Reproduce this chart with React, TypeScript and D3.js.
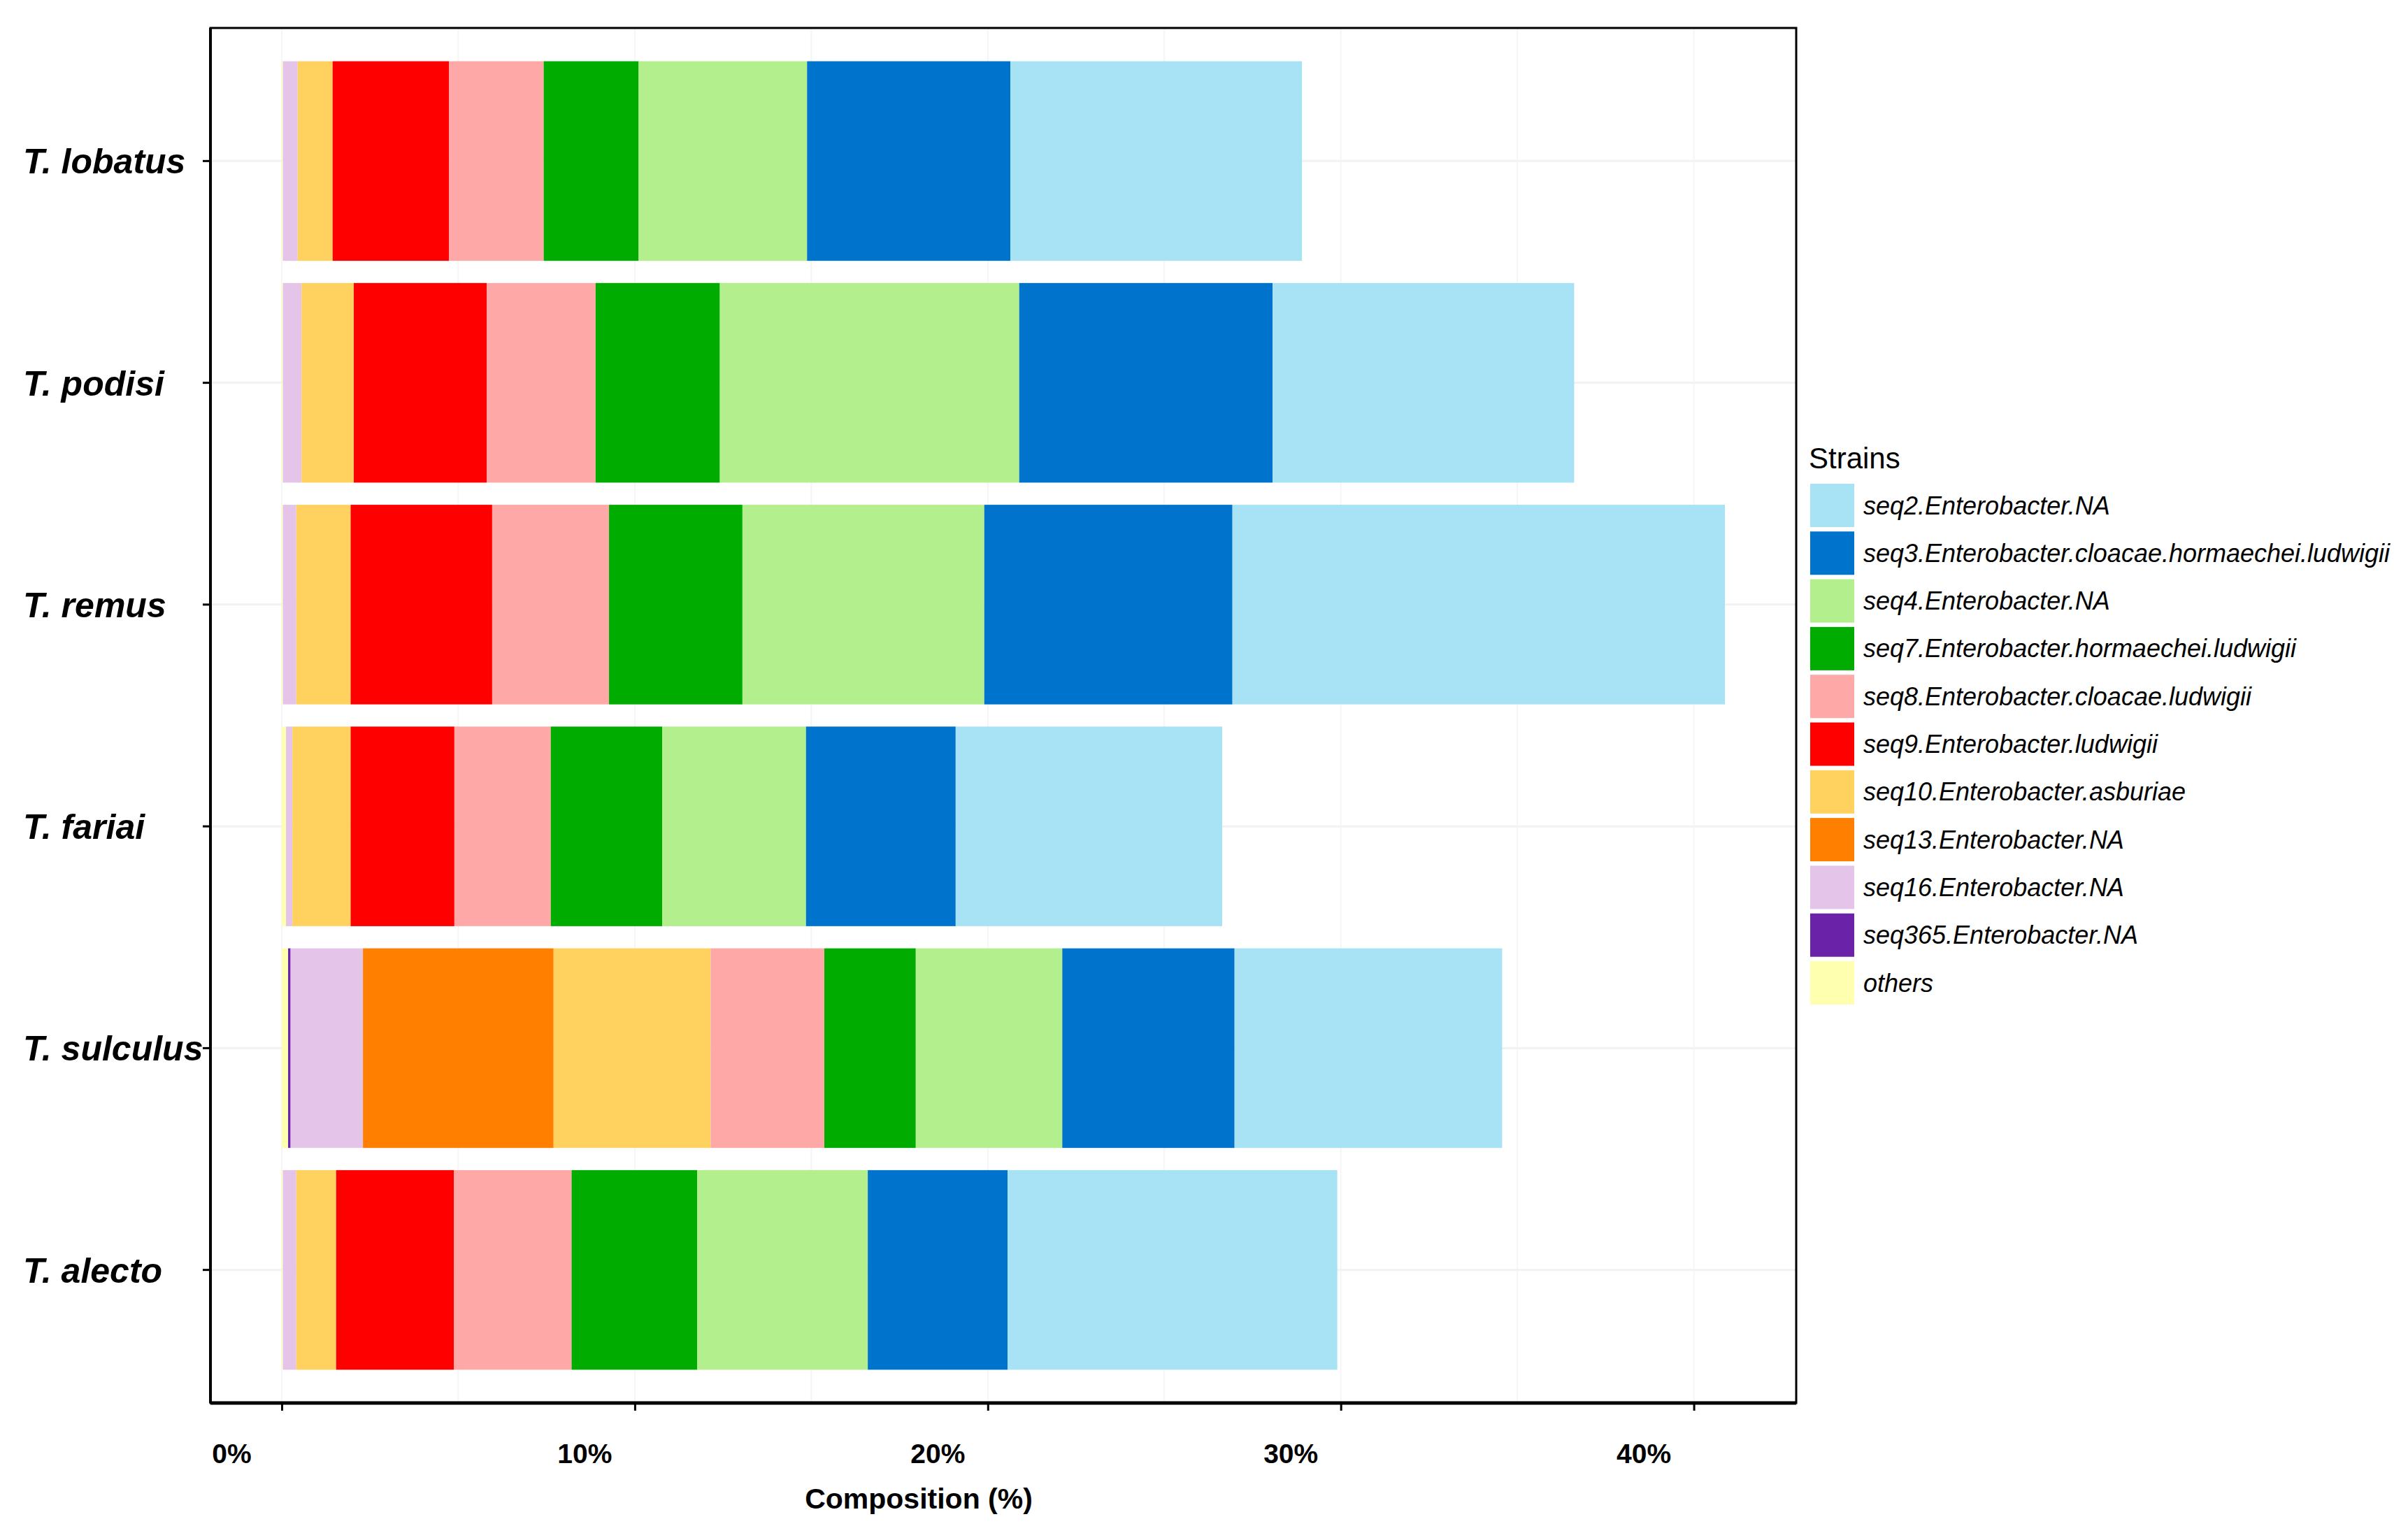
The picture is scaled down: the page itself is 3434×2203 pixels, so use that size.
import React, { useEffect, useRef } from "react";
import * as d3 from "d3";

// species on the y axis, top to bottom
const species = ["T. lobatus", "T. podisi", "T. remus", "T. fariai", "T. sulculus", "T. alecto"];

// legend order (ggplot puts the first level at the right end of the stack)
const strains = [
  "seq2.Enterobacter.NA",
  "seq3.Enterobacter.cloacae.hormaechei.ludwigii",
  "seq4.Enterobacter.NA",
  "seq7.Enterobacter.hormaechei.ludwigii",
  "seq8.Enterobacter.cloacae.ludwigii",
  "seq9.Enterobacter.ludwigii",
  "seq10.Enterobacter.asburiae",
  "seq13.Enterobacter.NA",
  "seq16.Enterobacter.NA",
  "seq365.Enterobacter.NA",
  "others",
];

const strainColors = [
  "#a7e3f4",
  "#0074cc",
  "#b4ef8d",
  "#00ac00",
  "#ffa8a8",
  "#ff0000",
  "#ffd25f",
  "#ff8000",
  "#e5c4ea",
  "#6a22a8",
  "#ffffb0",
];

// composition (%) per strain, in species order
const seq2 = [8.26, 8.54, 13.95, 7.55, 7.58, 9.34];
const seq3 = [5.76, 7.18, 7.03, 4.24, 4.88, 3.96];
const seq4 = [4.77, 8.48, 6.85, 4.07, 4.15, 4.83];
const seq7 = [2.69, 3.52, 3.78, 3.16, 2.59, 3.56];
const seq8 = [2.68, 3.08, 3.31, 2.73, 3.22, 3.33];
const seq9 = [3.3, 3.77, 4.01, 2.94, 0, 3.34];
const seq10 = [0.99, 1.48, 1.54, 1.65, 4.45, 1.13];
const seq13 = [0, 0, 0, 0, 5.4, 0];
const seq16 = [0.42, 0.53, 0.38, 0.18, 2.05, 0.38];
const seq365 = [0, 0, 0, 0, 0.07, 0];
const others = [0.03, 0.03, 0.03, 0.12, 0.18, 0.03];

const seriesValues = [seq2, seq3, seq4, seq7, seq8, seq9, seq10, seq13, seq16, seq365, others];

const W = 3434, H = 2203;
const panel = { left: 301, right: 2569, top: 40, bottom: 2007 };
const font = "'Liberation Sans', Arial, Helvetica, sans-serif";

const rows = species.map((sp, i) => {
  const row: any = { species: sp };
  strains.forEach((s, j) => { row[s] = seriesValues[j][i]; });
  return row;
});

// stack from 0: others first, seq2 last
const stacked = d3.stack<any>().keys([...strains].reverse())(rows);

const x = d3.scaleLinear().domain([-2.02, 42.9]).range([panel.left, panel.right]);
const y = d3.scaleBand().domain(species).range([panel.top, panel.bottom]).paddingInner(0.1).paddingOuter(0.15);

const App: React.FC = () => {
  const xAxisRef = useRef<SVGGElement>(null);
  const yAxisRef = useRef<SVGGElement>(null);

  useEffect(() => {
    const gx = d3.select(xAxisRef.current);
    gx.call(d3.axisBottom(x).tickValues(x.ticks(5)).tickSize(11).tickFormat((d: any) => `${d}%`));
    gx.select(".domain").remove();
    gx.selectAll(".tick line").attr("stroke", "#000").attr("stroke-width", 3);
    gx.selectAll(".tick text")
      .attr("y", 86)
      .attr("dy", 0)
      .attr("dx", -72)
      .attr("fill", "#000")
      .style("font-family", font)
      .style("font-weight", "bold")
      .style("font-size", "39px");

    const gy = d3.select(yAxisRef.current);
    gy.call(d3.axisLeft(y).tickSize(11));
    gy.select(".domain").remove();
    gy.selectAll(".tick line").attr("stroke", "#000").attr("stroke-width", 3);
    gy.selectAll(".tick text")
      .attr("x", 33 - panel.left)
      .attr("dy", "0.36em")
      .attr("text-anchor", "start")
      .attr("fill", "#000")
      .style("font-family", font)
      .style("font-weight", "bold")
      .style("font-style", "italic")
      .style("font-size", "50px");
  }, []);

  const legendX = 2589, legendTop = 692, keyStep = 68.3;

  return (
    <div style={{ position: "absolute", left: 0, top: 0 }}>
      <svg width={W} height={H} viewBox={`0 0 ${W} ${H}`} style={{ display: "block", background: "#fff" }}>
        <rect x={0} y={0} width={W} height={H} fill="#fff" />

        {/* grid */}
        <g>
          {x.ticks(10).map((t) => (
            <line key={`gx${t}`} x1={x(t)} x2={x(t)} y1={panel.top} y2={panel.bottom} stroke="#f5f5f5" strokeWidth={2} />
          ))}
          {species.map((s) => (
            <line key={`gy${s}`} x1={panel.left} x2={panel.right} y1={(y(s) as number) + y.bandwidth() / 2} y2={(y(s) as number) + y.bandwidth() / 2} stroke="#f2f2f2" strokeWidth={3} />
          ))}
        </g>

        {/* stacked bars */}
        <g>
          {stacked.map((layer) => {
            const color = strainColors[strains.indexOf(layer.key)];
            return (
              <g key={layer.key} fill={color}>
                {layer.map((d, i) => {
                  const w = x(d[1]) - x(d[0]);
                  if (w <= 0) return null;
                  return (
                    <rect key={i} x={x(d[0])} y={y(d.data.species)} width={w} height={y.bandwidth()} />
                  );
                })}
              </g>
            );
          })}
        </g>

        {/* panel border */}
        <rect x={panel.left} y={panel.top} width={panel.right - panel.left} height={panel.bottom - panel.top} fill="none" stroke="#000" strokeWidth={3} />
        <line x1={panel.left} x2={panel.right} y1={panel.bottom} y2={panel.bottom} stroke="#000" strokeWidth={5} />
        <line x1={panel.left} x2={panel.left} y1={panel.top} y2={panel.bottom} stroke="#000" strokeWidth={4} />

        <g ref={xAxisRef} transform={`translate(0,${panel.bottom})`} />
        <g ref={yAxisRef} transform={`translate(${panel.left},0)`} />

        <text x={1314} y={2158} textAnchor="middle" fontFamily={font} fontWeight="bold" fontSize={41} fill="#000">
          Composition (%)
        </text>

        {/* legend */}
        <text x={2587} y={670} fontFamily={font} fontSize={42} fill="#000">Strains</text>
        {strains.map((s, i) => (
          <g key={s} transform={`translate(${legendX},${legendTop + i * keyStep})`}>
            <rect x={0} y={0} width={63} height={62} fill={strainColors[i]} />
            <text x={76} y={31} dy="0.35em" fontFamily={font} fontStyle="italic" fontSize={36} fill="#000">
              {s}
            </text>
          </g>
        ))}
      </svg>
    </div>
  );
};

export default App;
